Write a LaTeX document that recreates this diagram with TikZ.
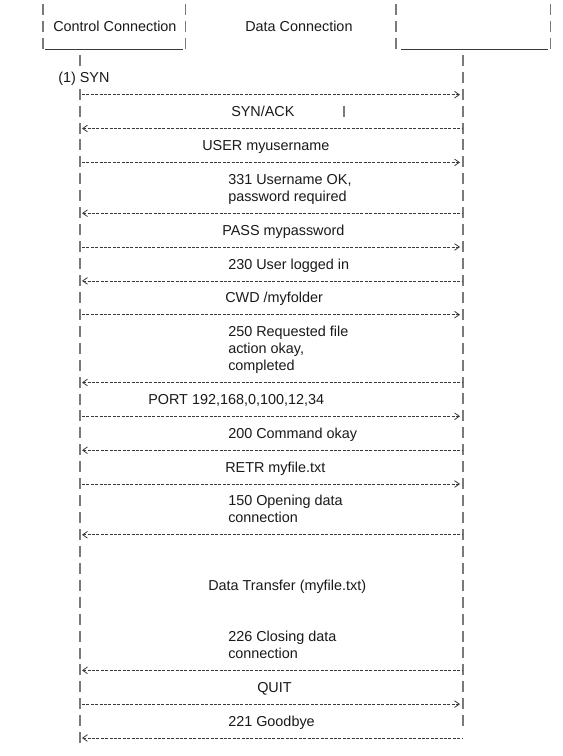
\documentclass[tikz,border=0pt]{standalone}
\usepackage{fontspec}
\setmainfont{Liberation Sans}
\usetikzlibrary{arrows.meta,positioning,calc}
\definecolor{ink}{HTML}{1A1A1A}
\definecolor{bar}{HTML}{7A7A7A}
\definecolor{hyph}{HTML}{3A3A3A}
\tikzset{lifeline/.style={draw=bar,line width=0.85pt,dash pattern=on 8.25pt off 4.45pt},
 msgline/.style={draw=hyph,line width=0.5pt,dash pattern=on 2.3pt off 1pt},
 sendarrow/.style={msgline,-{Straight Barb[length=3.6pt,width=5pt,line width=0.6pt]},shorten <=1.5pt,shorten >=2.25pt},
 replyarrow/.style={msgline,{Straight Barb[length=3.6pt,width=5pt,line width=0.6pt]}-,shorten <=1.5pt,shorten >=1.1pt}}

\begin{document}
\begin{tikzpicture}[x=0.75pt,y=-0.75pt,t/.style={anchor=base west,inner sep=0pt,align=left,
 font=\fontsize{10.8}{12.7}\selectfont,text=ink}]
\path[fill=white,use as bounding box] (0,0) rectangle (563,756);
% header
\draw[lifeline] (43,4)--(43,48.9);\draw[lifeline] (185.5,4)--(185.5,48.9);
\draw[lifeline] (396,4)--(396,48.9);\draw[lifeline] (550.5,4)--(550.5,48.9);
\draw[hyph,line width=0.75pt] (45,50)--(183,50);\draw[hyph,line width=0.75pt] (401,50)--(548,50);
\node[t] (ctlhead) at (53,31.9) {Control Connection};
\node[t] (datahead) at (245,31.9) {Data Connection};
% lifelines
\coordinate (ctl) at (80,0);\coordinate (srv) at (463,0);
\draw[lifeline] (ctl |- 0,54.8)--(ctl |- 0,65.8);\draw[lifeline] (ctl |- 0,88.7)--(ctl |- 0,743);
\draw[lifeline] (srv |- 0,54.8)--(srv |- 0,726.1);
\draw[lifeline] (344,105.6)--(344,116.6);
% messages (multi-line labels sit on their last baseline)
\node[t] (syn) at (58,82.7) {(1) SYN};
\node[t] (synack) at (231,116.6) {SYN/ACK};
\node[t] (user) at (202,150.4) {USER myusername};
\node[t] (userok) at (228,201.2) {331 Username OK,\\password required};
\node[t] (pass) at (222,235.1) {PASS mypassword};
\node[t] (login) at (228,269) {230 User logged in};
\node[t] (cwd) at (225,302.8) {CWD /myfolder};
\node[t] (cwdok) at (228,370.5) {250 Requested file\\action okay,\\completed};
\node[t] (port) at (148,404.4) {PORT 192,168,0,100,12,34};
\node[t] (portok) at (228,438.3) {200 Command okay};
\node[t] (retr) at (225,472.1) {RETR myfile.txt};
\node[t] (open) at (228,522.9) {150 Opening data\\connection};
\node[t] (xfer) at (208,590.6) {Data Transfer (myfile.txt)};
\node[t] (close) at (228,658.3) {226 Closing data\\connection};
\node[t] (quit) at (257,692.2) {QUIT};
\node[t] (bye) at (228,726.1) {221 Goodbye};
\coordinate (a1) at (0,94.7);\draw[sendarrow] (ctl |- a1)--(srv |- a1);
\coordinate (a2) at (0,128.5);\draw[replyarrow] (ctl |- a2)--(srv |- a2);
\coordinate (a3) at (0,162.4);\draw[sendarrow] (ctl |- a3)--(srv |- a3);
\coordinate (a4) at (0,213.2);\draw[replyarrow] (ctl |- a4)--(srv |- a4);
\coordinate (a5) at (0,247);\draw[sendarrow] (ctl |- a5)--(srv |- a5);
\coordinate (a6) at (0,280.9);\draw[replyarrow] (ctl |- a6)--(srv |- a6);
\coordinate (a7) at (0,314.7);\draw[sendarrow] (ctl |- a7)--(srv |- a7);
\coordinate (a8) at (0,382.5);\draw[replyarrow] (ctl |- a8)--(srv |- a8);
\coordinate (a9) at (0,416.3);\draw[sendarrow] (ctl |- a9)--(srv |- a9);
\coordinate (a10) at (0,450.2);\draw[replyarrow] (ctl |- a10)--(srv |- a10);
\coordinate (a11) at (0,484);\draw[sendarrow] (ctl |- a11)--(srv |- a11);
\coordinate (a12) at (0,534.8);\draw[replyarrow] (ctl |- a12)--(srv |- a12);
\coordinate (a13) at (0,670.3);\draw[replyarrow] (ctl |- a13)--(srv |- a13);
\coordinate (a14) at (0,704.1);\draw[sendarrow] (ctl |- a14)--(srv |- a14);
\coordinate (a15) at (0,738);\draw[replyarrow] (ctl |- a15)--(srv |- a15);
\end{tikzpicture}
\end{document}
